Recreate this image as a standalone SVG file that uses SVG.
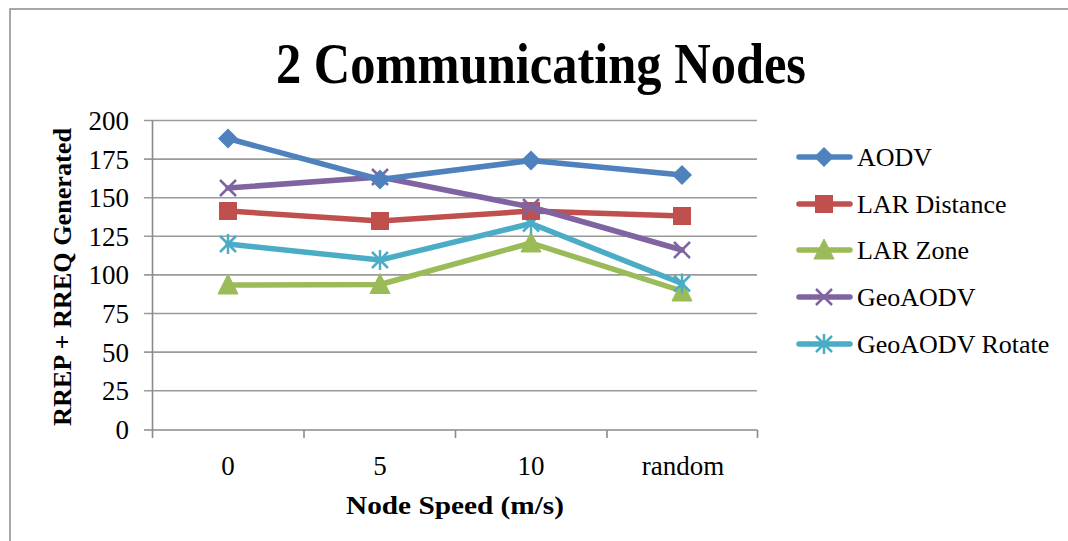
<svg xmlns="http://www.w3.org/2000/svg" width="1068" height="541" viewBox="0 0 1068 541">
<style>
text{font-family:"Liberation Serif","Times New Roman",serif;fill:#000}
.grid{stroke:#9a9a9a;stroke-width:1.6}
.axis{stroke:#8a8a8a;stroke-width:1.6;fill:none}
.yl{font-size:27px;text-anchor:end}
.xl{font-size:27px;text-anchor:middle}
.lg{font-size:26px}
.s{fill:none;stroke-width:5.5;stroke-linejoin:round;stroke-linecap:round}
</style>
<defs>
<path id="dia" d="M0,-10 L10,0 L0,10 L-10,0 Z"/>
<rect id="sq" x="-9" y="-9" width="18" height="18"/>
<path id="tri" d="M0,-11 L10,9 L-10,9 Z"/>
<path id="xm" d="M-8,-8 L8,8 M-8,8 L8,-8" fill="none" stroke-width="2.5"/>
<path id="st" d="M-8,-8 L8,8 M-8,8 L8,-8 M0,-10 L0,10" fill="none" stroke-width="2.5"/>
</defs>
<rect x="10" y="9" width="1070" height="545" fill="#fff" stroke="#8c8c8c" stroke-width="1.5"/>
<text x="541" y="83" font-size="56" font-weight="bold" text-anchor="middle" textLength="530" lengthAdjust="spacingAndGlyphs">2 Communicating Nodes</text>
<g id="gridlines">
<line class="grid" x1="144" y1="120.5" x2="757" y2="120.5"/>
<line class="grid" x1="144" y1="159.1" x2="757" y2="159.1"/>
<line class="grid" x1="144" y1="197.7" x2="757" y2="197.7"/>
<line class="grid" x1="144" y1="236.3" x2="757" y2="236.3"/>
<line class="grid" x1="144" y1="274.9" x2="757" y2="274.9"/>
<line class="grid" x1="144" y1="313.5" x2="757" y2="313.5"/>
<line class="grid" x1="144" y1="352.1" x2="757" y2="352.1"/>
<line class="grid" x1="144" y1="390.7" x2="757" y2="390.7"/>
</g>
<g id="axes">
<path class="axis" d="M152.5,120.5 V430 M144,430 H757.5 M152.5,430 v8 M304,430 v8 M455.5,430 v8 M607,430 v8 M757.5,430 v8"/>
</g>
<g id="ylabels">
<text class="yl" x="129" y="130">200</text>
<text class="yl" x="129" y="169">175</text>
<text class="yl" x="129" y="207">150</text>
<text class="yl" x="129" y="246">125</text>
<text class="yl" x="129" y="284">100</text>
<text class="yl" x="129" y="323">75</text>
<text class="yl" x="129" y="362">50</text>
<text class="yl" x="129" y="400">25</text>
<text class="yl" x="129" y="439">0</text>
</g>
<g id="xlabels">
<text class="xl" x="228" y="475">0</text>
<text class="xl" x="380" y="475">5</text>
<text class="xl" x="531" y="475">10</text>
<text class="xl" x="683" y="475">random</text>
</g>
<text x="455" y="514" font-size="26" font-weight="bold" text-anchor="middle" textLength="218" lengthAdjust="spacingAndGlyphs">Node Speed (m/s)</text>
<text transform="translate(71,277) rotate(-90)" font-size="26" font-weight="bold" text-anchor="middle" textLength="298" lengthAdjust="spacingAndGlyphs">RREP + RREQ Generated</text>
<g id="series-lar-zone" stroke="#9BBB59" fill="#9BBB59">
<polyline class="s" points="228,285 380,284.5 531,243 682,291"/>
<use href="#tri" x="228" y="285"/><use href="#tri" x="380" y="284.5"/><use href="#tri" x="531" y="243"/><use href="#tri" x="682" y="292"/>
</g>
<g id="series-geoaodv-rotate" stroke="#4BACC6" fill="#4BACC6">
<polyline class="s" points="228,244 380,260 531,223.5 682,283.5"/>
<use href="#st" x="228" y="244"/><use href="#st" x="380" y="260"/><use href="#st" x="531" y="223.5"/><use href="#st" x="682" y="283.5"/>
</g>
<g id="series-lar-distance" stroke="#C0504D" fill="#C0504D">
<polyline class="s" points="228,211 380,221 531,211 682,216"/>
<use href="#sq" x="228" y="211" stroke="none"/><use href="#sq" x="380" y="221" stroke="none"/><use href="#sq" x="531" y="211" stroke="none"/><use href="#sq" x="682" y="216" stroke="none"/>
</g>
<g id="series-geoaodv" stroke="#8064A2" fill="#8064A2">
<polyline class="s" points="228,188 380,177 531,207 682,250"/>
<use href="#xm" x="228" y="188"/><use href="#xm" x="380" y="177"/><use href="#xm" x="531" y="207"/><use href="#xm" x="682" y="250"/>
</g>
<g id="series-aodv" stroke="#4F81BD" fill="#4F81BD">
<polyline class="s" points="228,138.5 380,179.5 531,160.5 682,175"/>
<use href="#dia" x="228" y="138.5" stroke="none"/><use href="#dia" x="380" y="179.5" stroke="none"/><use href="#dia" x="531" y="160.5" stroke="none"/><use href="#dia" x="682" y="175" stroke="none"/>
</g>
<g id="legend">
<g id="leg-aodv" stroke="#4F81BD" fill="#4F81BD"><line class="s" x1="799" y1="157" x2="850" y2="157"/><use href="#dia" x="824" y="157" stroke="none"/><text class="lg" x="857" y="166" stroke="none">AODV</text></g>
<g id="leg-lar-distance" stroke="#C0504D" fill="#C0504D"><line class="s" x1="799" y1="204" x2="850" y2="204"/><use href="#sq" x="824" y="204" stroke="none"/><text class="lg" x="857" y="213" stroke="none">LAR Distance</text></g>
<g id="leg-lar-zone" stroke="#9BBB59" fill="#9BBB59"><line class="s" x1="799" y1="250" x2="850" y2="250"/><use href="#tri" x="824" y="250"/><text class="lg" x="857" y="259" stroke="none">LAR Zone</text></g>
<g id="leg-geoaodv" stroke="#8064A2" fill="#8064A2"><line class="s" x1="799" y1="297" x2="850" y2="297"/><use href="#xm" x="824" y="297"/><text class="lg" x="857" y="306" stroke="none">GeoAODV</text></g>
<g id="leg-geoaodv-rotate" stroke="#4BACC6" fill="#4BACC6"><line class="s" x1="799" y1="344" x2="850" y2="344"/><use href="#st" x="824" y="344"/><text class="lg" x="857" y="353" stroke="none">GeoAODV Rotate</text></g>
</g>
</svg>
